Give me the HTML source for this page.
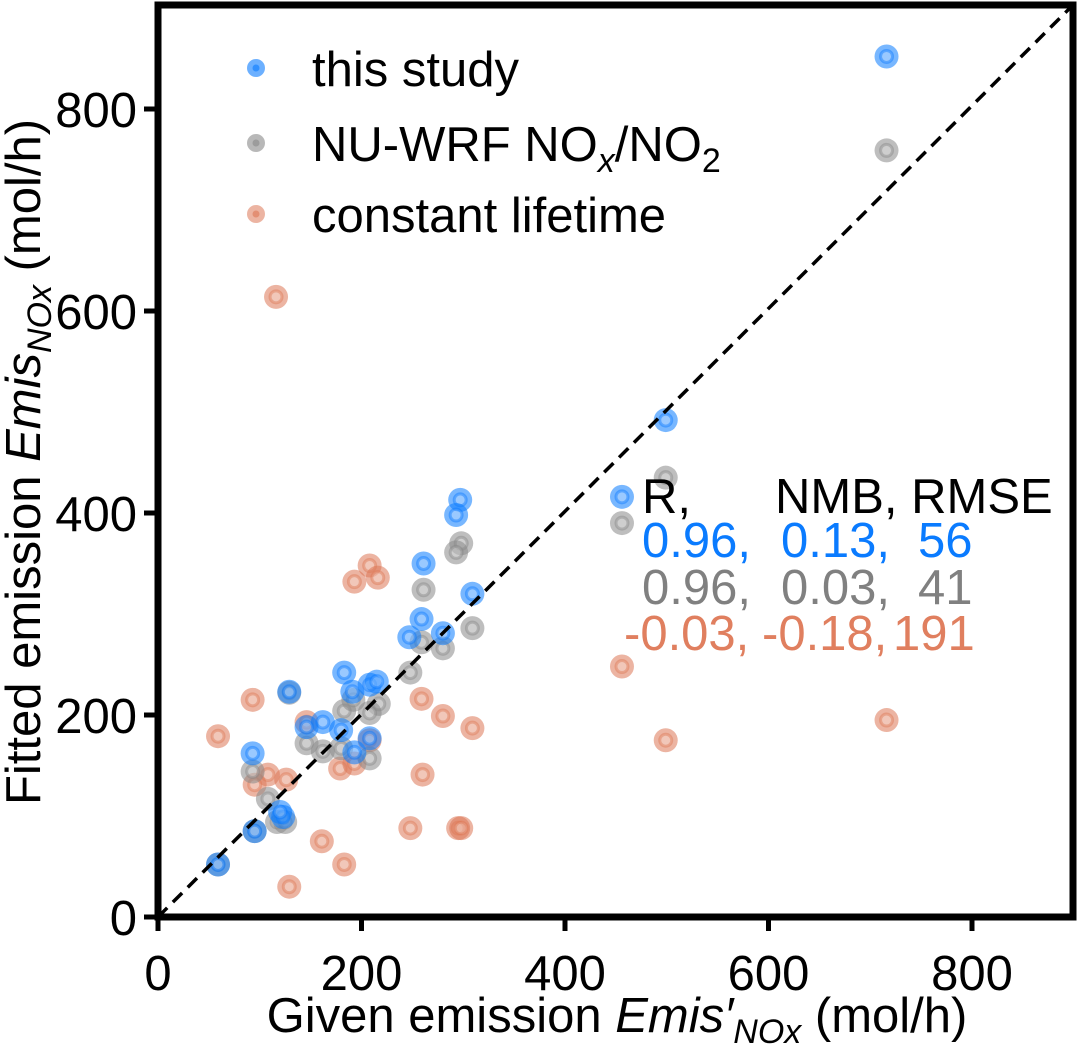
<!DOCTYPE html>
<html><head><meta charset="utf-8"><style>
html,body{margin:0;padding:0;background:#fff;}
svg{display:block;font-family:"Liberation Sans",Arial,sans-serif;}
</style></head><body>
<svg id="chart" width="1079" height="1044" viewBox="0 0 1079 1044" xmlns="http://www.w3.org/2000/svg">
<g id="marks"></g>
<line x1="158" y1="917" x2="1073" y2="5" stroke="#000" stroke-width="3.5" stroke-dasharray="13,8"/>
<rect x="158" y="5" width="915" height="912" fill="none" stroke="#000" stroke-width="7"/>
<g id="ticks" font-size="49"></g>
<text x="617" y="1032" font-size="49" text-anchor="middle">Given emission <tspan font-style="italic">Emis′</tspan><tspan font-style="italic" font-size="34" dy="11">NOx</tspan><tspan dy="-11"> (mol/h)</tspan></text>
<text transform="translate(40,462) rotate(-90)" font-size="49" text-anchor="middle">Fitted emission <tspan font-style="italic">Emis</tspan><tspan font-style="italic" font-size="34" dy="11">NOx</tspan><tspan dy="-11"> (mol/h)</tspan></text>
<g font-size="49">
  <g><circle cx="256" cy="68" r="9" fill="#0a7bff" fill-opacity="0.6"/><circle cx="256" cy="68" r="3.5" fill="#0a7bff" fill-opacity="0.6"/><text x="312" y="86">this study</text></g>
  <g><circle cx="256" cy="143" r="9" fill="#888" fill-opacity="0.6"/><circle cx="256" cy="143" r="3.5" fill="#888" fill-opacity="0.6"/><text x="312" y="161">NU-WRF NO<tspan font-style="italic" font-size="34" dy="11">x</tspan><tspan dy="-11">/NO</tspan><tspan font-size="34" dy="11">2</tspan></text></g>
  <g><circle cx="256" cy="214" r="9" fill="#dd7755" fill-opacity="0.55"/><circle cx="256" cy="214" r="3.5" fill="#dd7755" fill-opacity="0.6"/><text x="312" y="232">constant lifetime</text></g>
</g>
<g font-size="49">
  <text x="642" y="513" fill="#000">R,</text>
  <text x="775" y="513" fill="#000">NMB, RMSE</text>
  <text y="557" fill="#0a7bff"><tspan x="642">0.96,</tspan><tspan x="781">0.13,</tspan><tspan x="918">56</tspan></text>
  <text y="604" fill="#808080"><tspan x="642">0.96,</tspan><tspan x="781">0.03,</tspan><tspan x="918">41</tspan></text>
  <text y="650" fill="#e07f5f"><tspan x="624">-0.03,</tspan><tspan x="762">-0.18,</tspan><tspan x="893">191</tspan></text>
</g>
</svg>
<script>
const xTicks=[0,200,400,600,800];
const yTicks=[0,200,400,600,800];
const blueX=[297,293,261,309,259,247,280,183,129,191,208,215,162,146,180,208,93,193,123,120,95,59,499,456,716];
const blueY=[413,398,350,320,295,277,281,242,223,223,230,233,193,188,185,177,162,163,99,104,85,52,492,416,852];
const greyX=[298,293,261,309,259,280,248,129,217,208,183,192,146,162,180,208,93,108,117,125,95,59,499,456,716];
const greyY=[370,361,324,286,272,266,242,222,211,202,204,215,172,164,167,157,144,117,94,94,85,52,435,390,759];
const orangeX=[208,216,193,93,259,280,309,59,146,208,108,126,95,179,193,260,248,295,298,161,183,129,116,456,499,716];
const orangeY=[348,336,332,215,216,199,187,179,193,175,141,136,131,147,152,141,88,88,88,75,52,30,614,248,175,195];
const NS="http://www.w3.org/2000/svg";
function sx(v){return 158+v*1.0175;}
function sy(v){return 917-v*1.01;}
const marks=document.getElementById('marks');
function series(xs,ys,col,name){
  for(let i=0;i<xs.length;i++){
    const g=document.createElementNS(NS,'g');
    
    
    const c=document.createElementNS(NS,'circle');
    c.setAttribute('cx',sx(xs[i]));c.setAttribute('cy',sy(ys[i]));c.setAttribute('r',12);
    c.setAttribute('fill',col);c.setAttribute('fill-opacity',0.55);
    const r=document.createElementNS(NS,'circle');
    r.setAttribute('cx',sx(xs[i]));r.setAttribute('cy',sy(ys[i]));r.setAttribute('r',6);
    r.setAttribute('fill','#fff');r.setAttribute('fill-opacity',0.25);
    r.setAttribute('stroke',col);r.setAttribute('stroke-opacity',0.45);r.setAttribute('stroke-width',3);
    g.appendChild(c);g.appendChild(r);marks.appendChild(g);
  }
}
series(orangeX,orangeY,'#dd7755','constant-lifetime');
series(greyX,greyY,'#888888','nu-wrf');
series(blueX,blueY,'#0a7bff','this-study');
const tk=document.getElementById('ticks');
xTicks.forEach(v=>{
  const l=document.createElementNS(NS,'line');
  
  
  l.setAttribute('x1',sx(v));l.setAttribute('x2',sx(v));l.setAttribute('y1',917);l.setAttribute('y2',931);
  l.setAttribute('stroke','#000');l.setAttribute('stroke-width',5);tk.appendChild(l);
  const t=document.createElementNS(NS,'text');
  
  
  t.setAttribute('x',sx(v));t.setAttribute('y',990);t.setAttribute('text-anchor','middle');
  t.textContent=v;tk.appendChild(t);
});
yTicks.forEach(v=>{
  const l=document.createElementNS(NS,'line');
  
  
  l.setAttribute('x1',144);l.setAttribute('x2',158);l.setAttribute('y1',sy(v));l.setAttribute('y2',sy(v));
  l.setAttribute('stroke','#000');l.setAttribute('stroke-width',5);tk.appendChild(l);
  const t=document.createElementNS(NS,'text');
  
  
  t.setAttribute('x',137);t.setAttribute('y',sy(v)+18);t.setAttribute('text-anchor','end');
  t.textContent=v;tk.appendChild(t);
});
</script>
</body></html>
